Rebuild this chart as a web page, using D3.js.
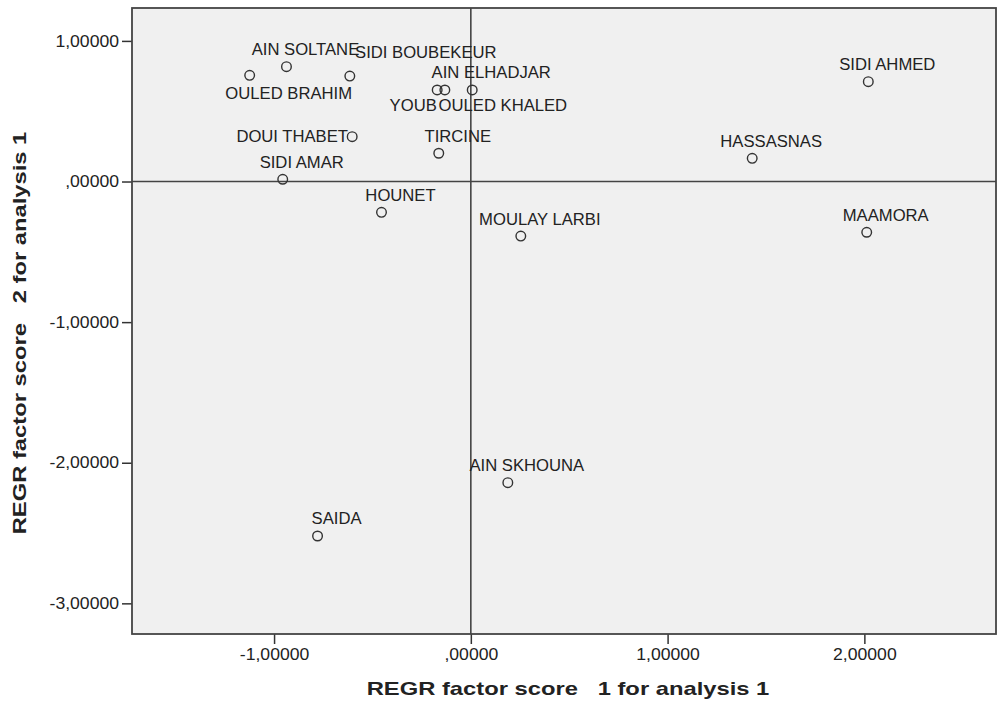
<!DOCTYPE html>
<html>
<head>
<meta charset="utf-8">
<script src="https://cdn.jsdelivr.net/npm/d3@7"></script>
<style>
  body { margin: 0; background: #fff; }
  text { font-family: "Liberation Sans", Arial, sans-serif; fill: #222; }
</style>
</head>
<body>
<div id="scatter"></div>
<script>
// communes and their two REGR factor scores
const names = ["OULED BRAHIM", "AIN SOLTANE", "SIDI BOUBEKEUR", "YOUB", "OULED KHALED", "AIN ELHADJAR",
  "DOUI THABET", "TIRCINE", "SIDI AMAR", "HOUNET", "SIDI AHMED", "HASSASNAS", "MAAMORA",
  "MOULAY LARBI", "AIN SKHOUNA", "SAIDA"];
const factor1 = [-1.124, -0.937, -0.615, -0.171, -0.132, 0.007, -0.603, -0.163, -0.956, -0.454,
  2.020, 1.430, 2.012, 0.254, 0.188, -0.779];
const factor2 = [0.755, 0.817, 0.750, 0.651, 0.651, 0.651, 0.319, 0.201, 0.016, -0.219,
  0.710, 0.165, -0.361, -0.388, -2.142, -2.521];
const xTicks = [-1, 0, 1, 2];
const yTicks = [1, 0, -1, -2, -3];
const xTitle = "REGR factor score   1 for analysis 1";
const yTitle = "REGR factor score   2 for analysis 1";

// label placement tweaks (pixels from the point), default is above and a bit right
const labelNudge = {
  "OULED BRAHIM": [39, 18],
  "SIDI BOUBEKEUR": [76, -24],
  "YOUB": [-24, 16],
  "OULED KHALED": [58, 16],
  "DOUI THABET": [-60, 0]
};

const width = 997, height = 701,
  margin = ({ top: 8, right: 1, bottom: 67, left: 132 });

const svg = d3.select("#scatter")
  .append("svg")
  .attr("width", width)
  .attr("height", height);

const xScale = d3.scaleLinear()
  .domain([-1.722, 2.669])
  .range([margin.left, width - margin.right]);

const yScale = d3.scaleLinear()
  .domain([-3.218, 1.234])
  .range([height - margin.bottom, margin.top]);

const locale = d3.formatLocale({ decimal: ",", thousands: ".", grouping: [3], currency: ["", ""], minus: "-" });
const f5 = locale.format(".5f");
const fmt = v => f5(v).replace(/^(-?)0,/, "$1,");

// stretch text horizontally (the original font is wider than Arial)
function stretch(sel, sx) {
  sel.each(function() {
    const w = this.getComputedTextLength();
    d3.select(this).attr("textLength", w * sx).attr("lengthAdjust", "spacingAndGlyphs");
  });
}

// plot background
svg.append("rect")
  .attr("x", margin.left)
  .attr("y", margin.top)
  .attr("width", width - margin.right - margin.left)
  .attr("height", height - margin.bottom - margin.top)
  .attr("fill", "#f0f0f0");

// axes
const xAxis = svg.append("g")
  .attr("transform", `translate(0,${height - margin.bottom})`)
  .call(d3.axisBottom(xScale).tickValues(xTicks).tickFormat(fmt).tickSize(10).tickPadding(5));

const yAxis = svg.append("g")
  .attr("transform", `translate(${margin.left},0)`)
  .call(d3.axisLeft(yScale).tickValues(yTicks).tickFormat(fmt).tickSize(10).tickPadding(3));

[xAxis, yAxis].forEach(ax => {
  ax.select(".domain").remove();
  ax.selectAll(".tick line").attr("stroke", "#333").attr("stroke-width", 1.5);
  ax.selectAll(".tick text")
    .attr("font-family", "Liberation Sans, Arial, sans-serif")
    .style("font-size", "16px")
    .attr("fill", "#222")
    .call(stretch, 1.1);
});

// reference lines at zero
svg.append("line")
  .attr("x1", xScale(0)).attr("x2", xScale(0))
  .attr("y1", margin.top).attr("y2", height - margin.bottom)
  .attr("stroke", "#444").attr("stroke-width", 1.6);
svg.append("line")
  .attr("x1", margin.left).attr("x2", width - margin.right)
  .attr("y1", yScale(0)).attr("y2", yScale(0))
  .attr("stroke", "#444").attr("stroke-width", 1.6);

// frame
svg.append("rect")
  .attr("x", margin.left)
  .attr("y", margin.top)
  .attr("width", width - margin.right - margin.left)
  .attr("height", height - margin.bottom - margin.top)
  .attr("fill", "none")
  .attr("stroke", "#444")
  .attr("stroke-width", 1.8);

const points = names.map((n, i) => ({ name: n, x: factor1[i], y: factor2[i] }));

svg.append("g").selectAll("circle")
  .data(points)
  .enter().append("circle")
    .attr("cx", d => xScale(d.x))
    .attr("cy", d => yScale(d.y))
    .attr("r", 4.8)
    .attr("fill", "none")
    .attr("stroke", "#333")
    .attr("stroke-width", 1.4);

svg.append("g").selectAll("text")
  .data(points)
  .enter().append("text")
    .attr("x", d => xScale(d.x) + (labelNudge[d.name] ? labelNudge[d.name][0] : 19))
    .attr("y", d => yScale(d.y) + (labelNudge[d.name] ? labelNudge[d.name][1] : -17))
    .attr("text-anchor", "middle")
    .attr("dominant-baseline", "central")
    .style("font-size", "16px")
    .text(d => d.name)
    .call(stretch, 1.04);

// axis titles
svg.append("text")
  .attr("x", 568)
  .attr("y", 688)
  .attr("text-anchor", "middle")
  .attr("dominant-baseline", "central")
  .style("font-size", "19px")
  .style("font-weight", "bold")
  .style("white-space", "pre")
  .text(xTitle)
  .call(stretch, 1.25);

svg.append("text")
  .attr("transform", "translate(19,333) rotate(-90)")
  .attr("text-anchor", "middle")
  .attr("dominant-baseline", "central")
  .style("font-size", "19px")
  .style("font-weight", "bold")
  .style("white-space", "pre")
  .text(yTitle)
  .call(stretch, 1.25);
</script>
</body>
</html>
